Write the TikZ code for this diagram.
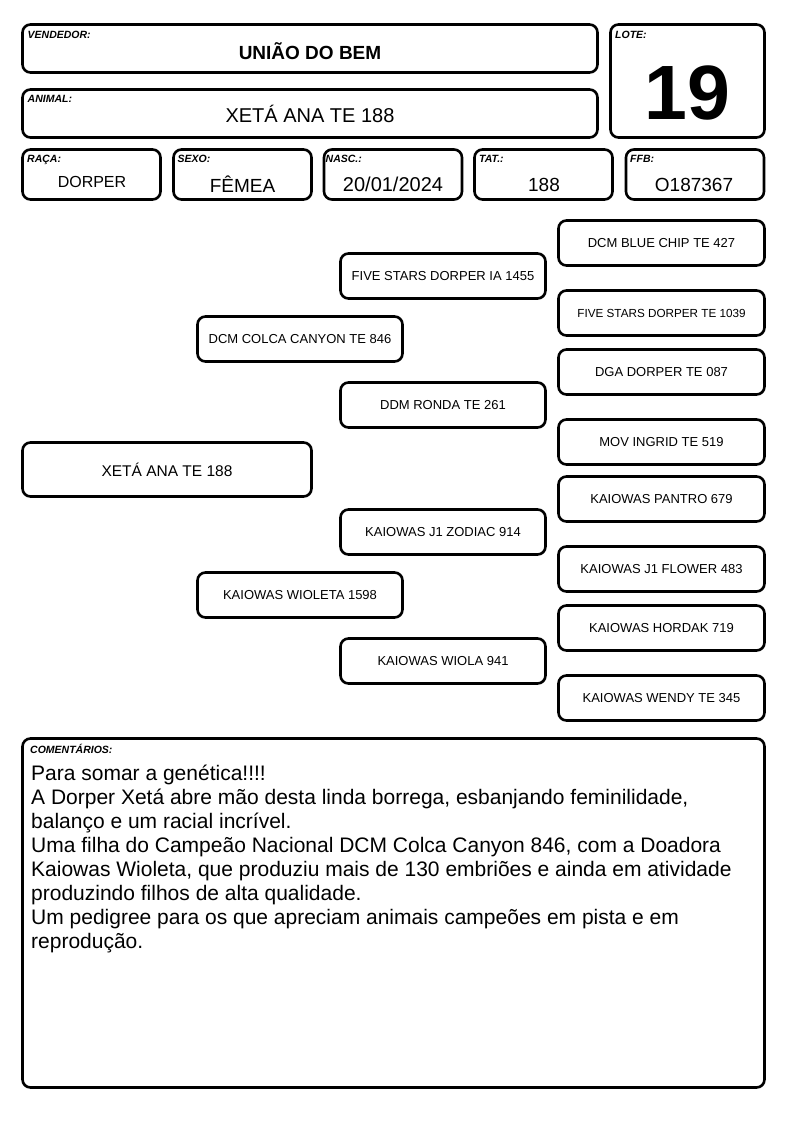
\documentclass[tikz,border=0pt]{standalone}
\usepackage{fontspec}
\setmainfont{Liberation Sans}
\usetikzlibrary{positioning}

\tikzset{
  caixa/.style={draw, line width=2.6pt, rounded corners=8pt, inner sep=0pt},
  rotulo/.style={font=\fontsize{10.5}{12}\selectfont\bfseries\itshape, anchor=base west, inner sep=0pt},
  valor/.style={font=\fontsize{19}{22}\selectfont, anchor=base, inner sep=0pt},
  campo/.style={caixa, minimum width=138pt, minimum height=50pt},
  ped/.style={caixa, minimum width=205pt, minimum height=45pt, font=\fontsize{13}{15}\selectfont},
}

\begin{document}
\begin{tikzpicture}[x=1pt,y=-1pt]
        \useasboundingbox (0,0) rectangle (794,1123);

        % Cabeçalho
        \node[caixa, minimum width=575pt, minimum height=48pt] (vendedor) at (310,48.5) {};
        \node[caixa, minimum width=575pt, minimum height=48pt] (animal) at (310,113.5) {};
        \node[caixa, minimum width=154pt, minimum height=113pt] (lote) at (687.5,81) {};

        \node[rotulo] (vendedorR) at (27.5,39) {VENDEDOR:};
        \node[valor, font=\fontsize{19}{22}\selectfont\bfseries] (vendedorV) at (310,60) {UNIÃO DO BEM};
        \node[rotulo] (animalR) at (27.5,103) {ANIMAL:};
        \node[valor, font=\fontsize{20}{22}\selectfont] (animalV) at (310,123) {XETÁ ANA TE 188};
        \node[rotulo] (loteR) at (615,39) {LOTE:};
        \node[valor, font=\fontsize{77}{80}\selectfont\bfseries] (loteV) at (687.5,120) {19};

        % Dados do animal
        \node[campo] (raca) at (91.5,174.5) {};
        \node[campo] (sexo) at (242.5,174.5) {};
        \node[campo] (nasc) at (393,174.5) {};
        \node[campo] (tat) at (543.5,174.5) {};
        \node[campo] (ffb) at (695,174.5) {};

        \node[rotulo] (racaR) at (27,163) {RAÇA:};
        \node[rotulo] (sexoR) at (177.5,163) {SEXO:};
        \node[rotulo] (nascR) at (325.5,163) {NASC.:};
        \node[rotulo] (tatR) at (479,163) {TAT.:};
        \node[rotulo] (ffbR) at (630,163) {FFB:};

        \node[valor, font=\fontsize{16}{18}\selectfont] (racaV) at (92,188) {DORPER};
        \node[valor] (sexoV) at (242.5,193) {FÊMEA};
        \node[valor, font=\fontsize{20}{22}\selectfont] (nascV) at (393,192) {20/01/2024};
        \node[valor] (tatV) at (544,192) {188};
        \node[valor] (ffbV) at (694,192) {O187367};

        % Pedigree
        \node[ped, minimum width=289pt, minimum height=54pt, font=\fontsize{15.5}{18}\selectfont] (filha) at (167,469.5) {XETÁ ANA TE 188};

        \node[ped] (pai) at (300,339) {DCM COLCA CANYON TE 846};
        \node[ped] (mae) at (300,595) {KAIOWAS WIOLETA 1598};

        \node[ped] (avoPP) at (443,276) {FIVE STARS DORPER IA 1455};
        \node[ped] (avoPM) at (443,405) {DDM RONDA TE 261};
        \node[ped] (avoMP) at (443,532) {KAIOWAS J1 ZODIAC 914};
        \node[ped] (avoMM) at (443,661) {KAIOWAS WIOLA 941};

        \node[ped, minimum width=206pt] (bisa1) at (661.5,243) {DCM BLUE CHIP TE 427};
        \node[ped, minimum width=206pt, font=\fontsize{11.7}{14}\selectfont] (bisa2) at (661.5,313) {FIVE STARS DORPER TE 1039};
        \node[ped, minimum width=206pt] (bisa3) at (661.5,372) {DGA DORPER TE 087};
        \node[ped, minimum width=206pt] (bisa4) at (661.5,442) {MOV INGRID TE 519};
        \node[ped, minimum width=206pt] (bisa5) at (661.5,499) {KAIOWAS PANTRO 679};
        \node[ped, minimum width=206pt] (bisa6) at (661.5,569) {KAIOWAS J1 FLOWER 483};
        \node[ped, minimum width=206pt] (bisa7) at (661.5,628) {KAIOWAS HORDAK 719};
        \node[ped, minimum width=206pt] (bisa8) at (661.5,698) {KAIOWAS WENDY TE 345};

        % Comentários (base da última linha)
        \node[caixa, minimum width=742pt, minimum height=349pt] (coment) at (393.5,913) {};
        \node[rotulo] (comentR) at (30,753) {COMENTÁRIOS:};
        \node[anchor=base west, inner sep=0pt, align=left, font=\fontsize{21}{24}\selectfont] (comentV) at (31,948) {Para somar a genética!!!!\\
A Dorper Xetá abre mão desta linda borrega, esbanjando feminilidade,\\
balanço e um racial incrível.\\
Uma filha do Campeão Nacional DCM Colca Canyon 846, com a Doadora\\
Kaiowas Wioleta, que produziu mais de 130 embriões e ainda em atividade\\
produzindo filhos de alta qualidade.\\
Um pedigree para os que apreciam animais campeões em pista e em\\
reprodução.};
    \end{tikzpicture}
\end{document}
